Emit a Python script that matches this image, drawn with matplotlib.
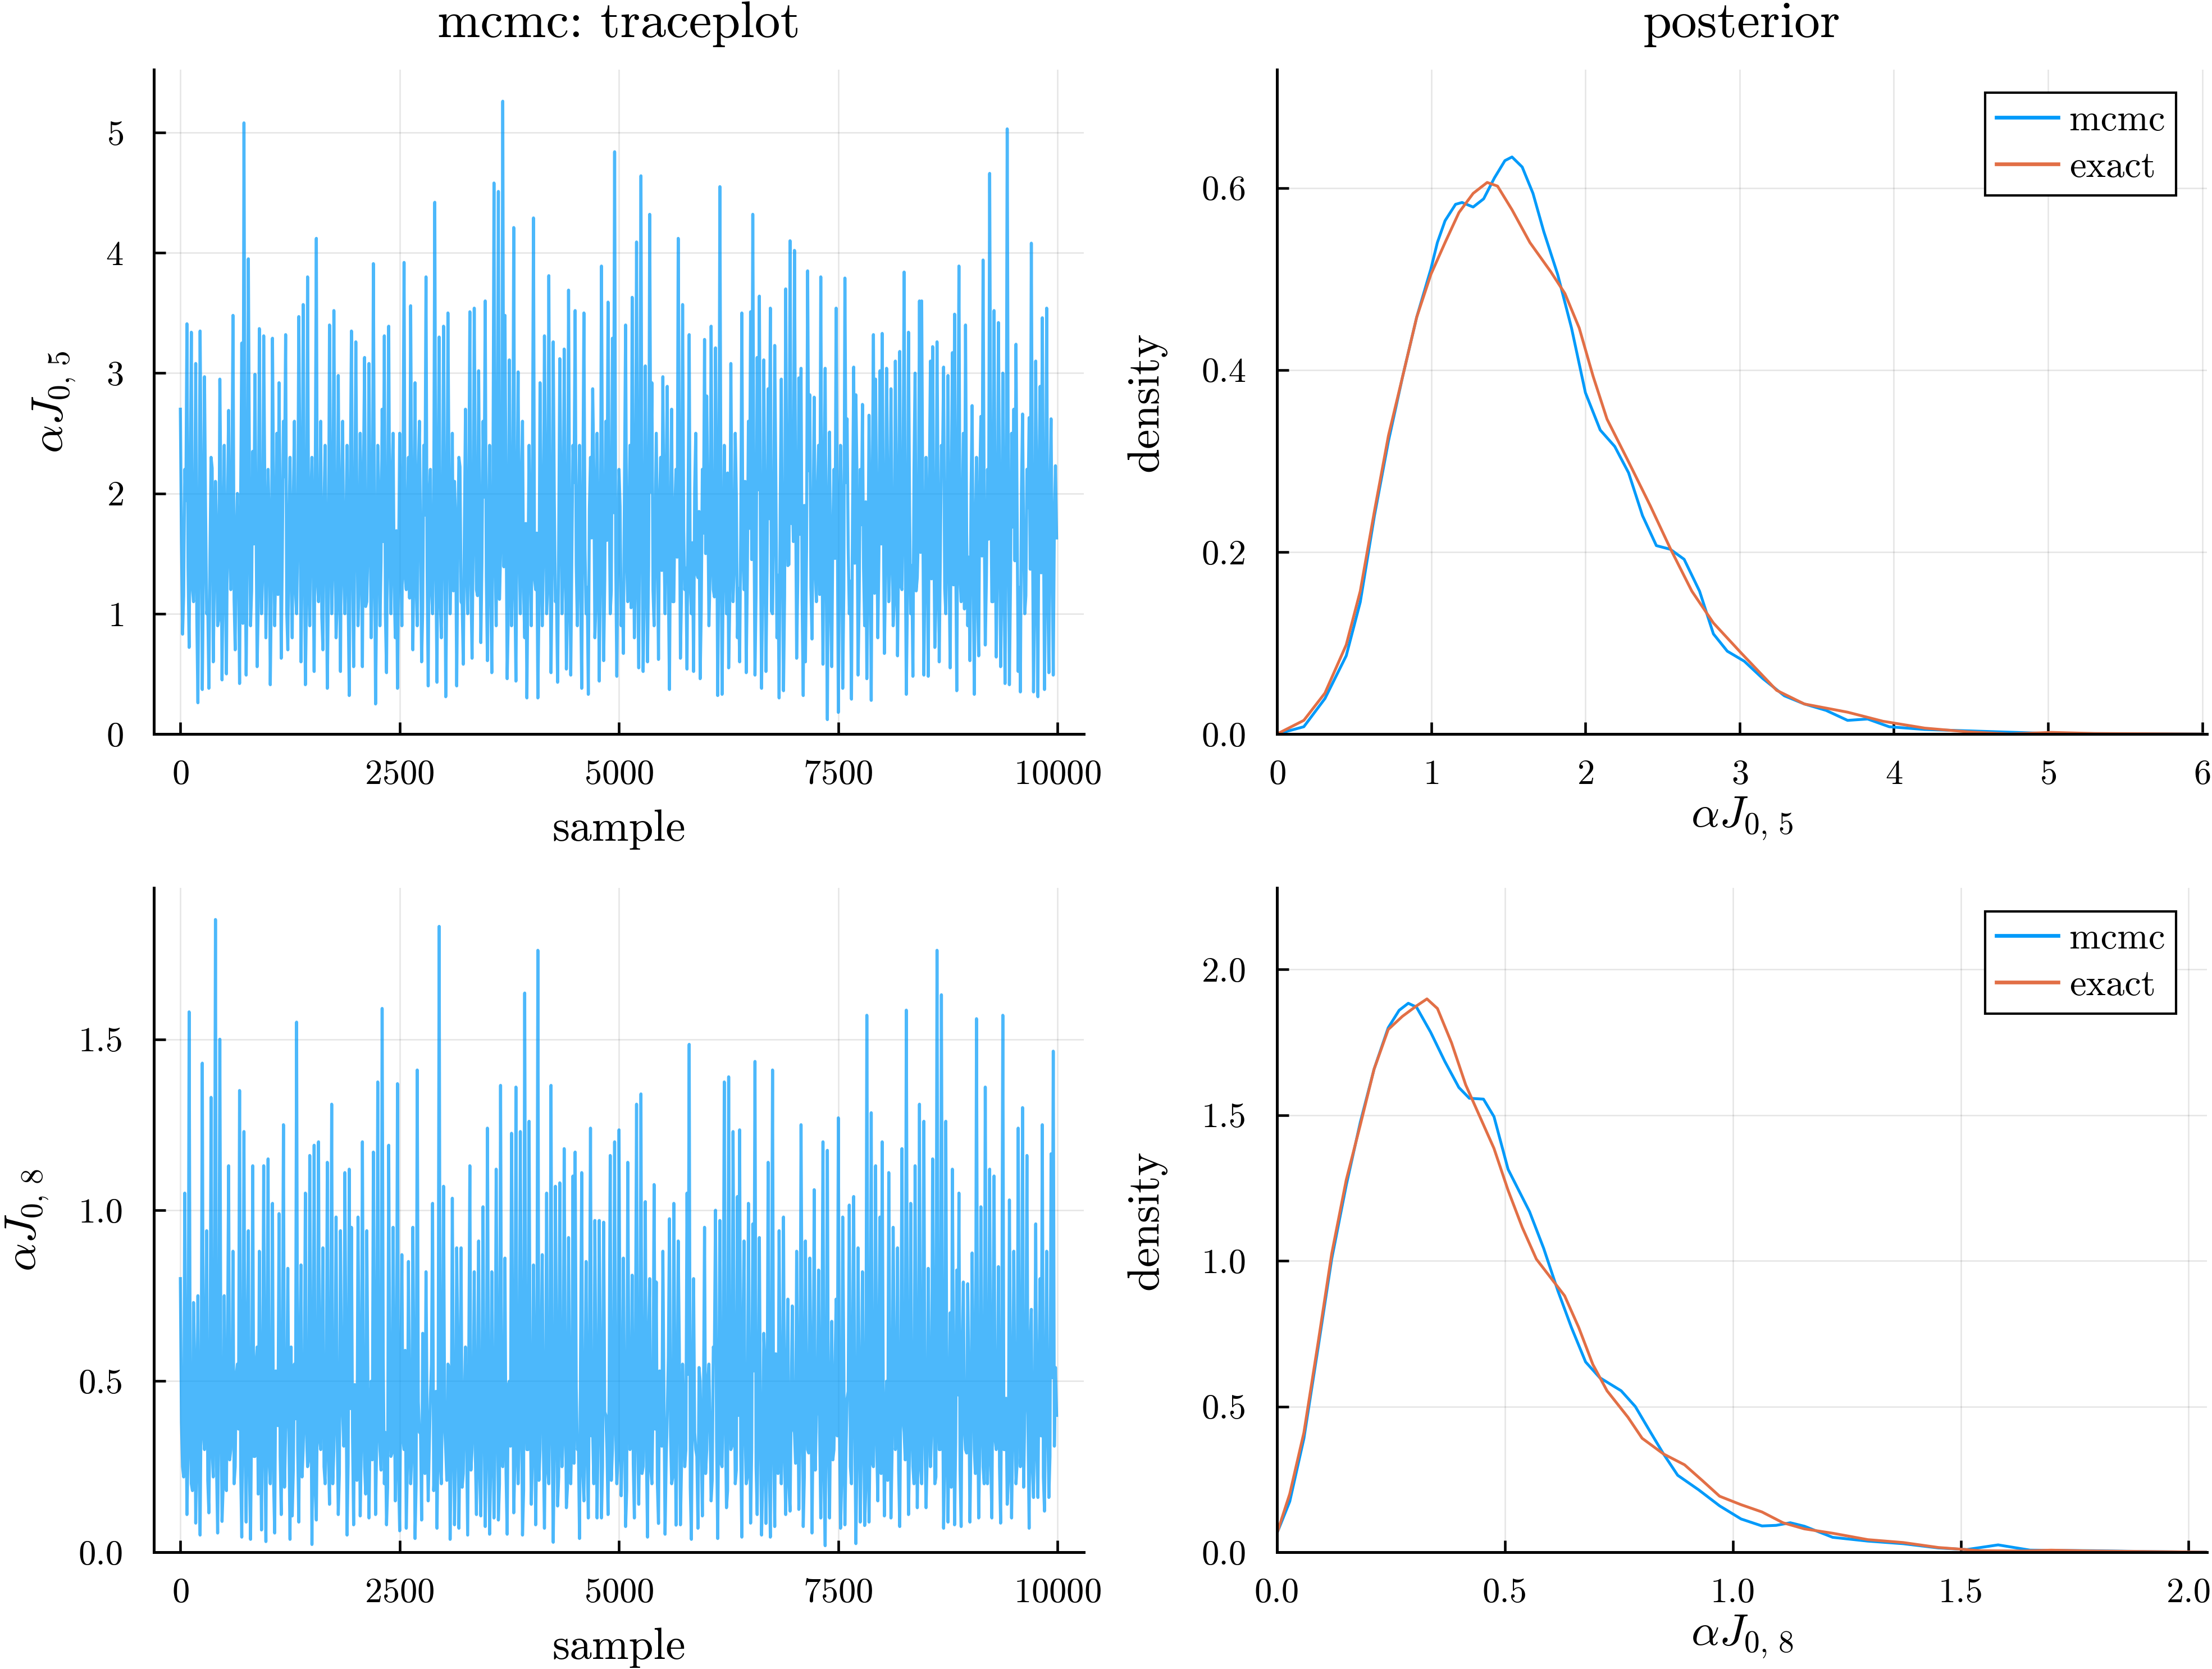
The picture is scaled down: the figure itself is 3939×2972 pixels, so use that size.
import matplotlib
matplotlib.use("Agg")
import matplotlib.pyplot as plt
import numpy as np
from matplotlib.ticker import FormatStrFormatter

# |====| data section
# mcmc chains: spikes / dips, one value every 25 samples
trace_j05 = [
    2.70, 0.83, 2.2, 3.41, 0.72, 3.34, 1.1, 3.08, 0.26, 3.35, 0.37, 2.97, 1.0, 0.38, 2.3, 0.6, 2.1, 0.9, 2.95, 0.45,
    2.4, 0.5, 2.69, 1.2, 3.48, 0.7, 2.0, 0.42, 3.25, 5.08, 0.49, 3.95, 0.9, 2.35, 2.99, 0.56, 3.37, 1.0, 3.31, 0.8,
    2.2, 0.41, 3.29, 0.9, 2.5, 2.92, 0.63, 2.6, 3.32, 0.7, 2.3, 0.8, 2.6, 1.0, 3.47, 0.6, 3.57, 0.41, 3.80, 0.9,
    2.3, 0.52, 4.12, 1.1, 2.6, 0.7, 2.4, 0.38, 3.40, 1.0, 3.52, 0.8, 2.98, 0.52, 2.6, 1.0, 2.4, 0.32, 3.35, 0.56,
    3.26, 0.9, 2.5, 0.56, 3.13, 1.1, 3.08, 0.8, 3.91, 0.25, 2.4, 0.9, 2.7, 3.31, 0.51, 3.39, 1.0, 2.5, 0.8, 0.38,
    2.5, 0.9, 3.92, 1.2, 2.3, 3.56, 0.7, 2.92, 0.9, 2.6, 0.6, 2.4, 3.80, 0.40, 2.2, 1.0, 4.42, 0.43, 3.30, 0.8,
    3.39, 0.31, 3.50, 1.0, 2.5, 2.1, 0.40, 2.3, 1.1, 0.58, 2.7, 1.0, 3.51, 0.63, 3.54, 1.2, 3.02, 0.76, 2.6, 3.60,
    0.61, 2.4, 0.51, 4.58, 0.9, 4.51, 1.5, 5.26, 3.48, 0.46, 3.11, 0.9, 4.21, 0.44, 3.01, 1.0, 2.6, 0.8, 0.30, 2.4,
    0.9, 4.29, 1.2, 0.30, 2.92, 0.9, 3.31, 1.0, 3.81, 0.51, 3.26, 1.1, 0.43, 3.12, 1.0, 3.20, 0.54, 3.69, 0.49, 2.4,
    3.52, 0.9, 2.4, 0.38, 3.50, 1.0, 0.33, 2.3, 2.87, 0.8, 2.5, 0.44, 3.89, 0.61, 2.6, 3.59, 1.0, 3.29, 4.84, 0.48,
    2.2, 0.9, 0.67, 3.40, 1.1, 2.4, 3.63, 0.8, 4.09, 0.55, 4.64, 0.52, 3.06, 0.60, 4.32, 2.92, 0.9, 2.5, 0.62, 2.3,
    2.97, 1.0, 2.89, 0.37, 2.70, 1.1, 2.2, 4.12, 0.63, 3.57, 1.2, 0.54, 3.32, 1.0, 0.52, 2.5, 1.3, 0.46, 2.2, 3.28,
    2.81, 0.9, 3.39, 1.2, 3.21, 0.32, 4.55, 0.33, 2.4, 1.0, 0.55, 3.08, 1.1, 2.5, 0.8, 0.60, 3.50, 1.2, 0.51, 2.6,
    3.51, 4.32, 0.49, 3.13, 3.64, 0.38, 3.11, 0.52, 2.87, 3.54, 1.0, 3.23, 0.8, 0.30, 2.95, 0.36, 3.70, 1.4, 4.10, 2.0,
    4.02, 0.63, 2.96, 3.04, 0.32, 0.60, 3.85, 2.82, 0.79, 2.80, 1.1, 2.4, 3.80, 0.58, 3.04, 0.12, 2.51, 0.56, 2.2, 3.54,
    0.18, 2.4, 0.38, 3.79, 2.62, 1.0, 0.29, 3.05, 2.82, 0.49, 2.2, 2.74, 0.9, 0.46, 2.65, 0.28, 3.32, 2.95, 0.8, 3.02,
    3.33, 0.67, 3.04, 1.1, 2.87, 0.9, 3.10, 0.65, 3.18, 1.2, 3.84, 0.33, 3.34, 1.0, 0.48, 3.00, 1.3, 3.60, 3.60, 0.49,
    2.3, 0.48, 3.10, 3.22, 0.72, 3.26, 0.60, 2.4, 3.05, 1.0, 2.98, 0.55, 3.17, 3.49, 0.36, 3.89, 1.1, 2.5, 3.40, 0.9,
    0.61, 2.73, 0.33, 2.3, 0.65, 2.64, 3.94, 0.74, 2.2, 4.66, 1.1, 3.52, 0.64, 3.42, 0.56, 3.00, 0.42, 5.03, 0.41, 2.5,
    2.70, 3.24, 0.52, 0.35, 2.66, 1.0, 2.2, 2.63, 4.08, 0.35, 3.10, 0.31, 2.89, 3.46, 0.37, 3.54, 0.51, 2.62, 0.49, 2.23,
]
# values in the dense core of the band, sitting between the ones above
core_j05 = [
    1.62, 1.15, 1.94, 1.38, 2.05, 1.21, 1.73, 0.98, 1.56, 2.12, 1.33, 1.85, 1.08, 1.47, 2.21, 1.29, 1.68, 0.95, 1.91, 1.42,
    1.27, 1.88, 1.51, 2.08, 1.12, 1.64, 1.36, 1.97, 0.92, 1.75, 1.44, 2.17, 1.19, 1.58, 1.83, 1.05, 1.71, 1.31, 2.02, 1.49,
    1.77, 1.24, 1.99, 1.41, 1.16, 1.86, 1.53, 2.14, 1.02, 1.66, 1.35, 1.92, 1.18, 1.61, 2.25, 1.39, 1.80, 1.11, 1.55, 1.95,
    1.46, 2.09, 1.26, 1.70, 0.97, 1.89, 1.52, 1.22, 2.04, 1.37, 1.81, 1.09, 1.63, 1.98, 1.32, 1.74, 1.14, 2.11, 1.45, 1.59,
    1.90, 1.28, 1.67, 2.19, 1.06, 1.54, 1.87, 1.34, 1.72, 1.17, 2.01, 1.43, 1.60, 0.99, 1.84, 1.48, 2.13, 1.23, 1.69, 1.40,
    1.57, 2.06, 1.30, 1.78, 1.13, 1.93, 1.50, 1.25, 2.16, 1.65, 1.04, 1.82, 1.38, 1.96, 1.20, 1.73, 1.44, 2.03, 1.10, 1.62,
    1.85, 1.33, 2.10, 1.47, 1.19, 1.76, 1.57, 2.22, 1.08, 1.68, 1.36, 1.95, 1.27, 1.59, 2.07, 1.15, 1.79, 1.42, 1.97, 1.31,
    1.70, 1.21, 1.91, 1.52, 2.18, 1.12, 1.64, 1.39, 2.00, 0.96, 1.83, 1.48, 1.26, 1.88, 1.55, 2.12, 1.18, 1.75, 1.35, 1.60,
    1.98, 1.29, 1.67, 1.07, 1.86, 1.45, 2.15, 1.24, 1.72, 1.37, 1.94, 1.14, 1.58, 2.05, 1.32, 1.80, 1.01, 1.66, 1.49, 2.09,
    1.41, 1.77, 1.16, 1.99, 1.53, 1.22, 1.87, 1.63, 2.20, 1.09, 1.71, 1.34, 1.92, 1.28, 1.61, 2.02, 1.19, 1.84, 1.46, 1.56,
    1.89, 1.25, 2.08, 1.43, 1.74, 1.05, 1.97, 1.51, 1.30, 2.14, 1.65, 1.13, 1.81, 1.40, 2.01, 1.20, 1.69, 1.54, 1.93, 1.36,
    1.62, 2.11, 1.27, 1.78, 1.10, 1.90, 1.47, 2.23, 1.17, 1.70, 1.38, 1.96, 1.23, 1.59, 2.04, 1.33, 1.85, 1.03, 1.67, 1.50,
    1.94, 1.31, 1.73, 1.14, 2.06, 1.44, 1.82, 1.26, 1.60, 2.17, 1.08, 1.76, 1.39, 1.98, 1.21, 1.64, 1.52, 2.10, 1.29, 1.71,
    1.45, 1.88, 1.18, 2.03, 1.57, 1.24, 1.92, 1.35, 1.79, 1.02, 1.68, 2.13, 1.32, 1.86, 1.48, 1.15, 1.97, 1.41, 1.75, 1.60,
    2.07, 1.28, 1.66, 1.11, 1.90, 1.53, 2.19, 1.22, 1.72, 1.37, 1.99, 1.16, 1.63, 2.02, 1.30, 1.83, 1.06, 1.69, 1.46, 1.95,
    1.34, 1.80, 1.20, 2.09, 1.55, 1.27, 1.87, 1.42, 2.15, 1.12, 1.74, 1.38, 1.93, 1.25, 1.61, 2.05, 1.17, 1.78, 1.49, 1.58,
    1.91, 1.32, 2.12, 1.43, 1.70, 1.09, 1.96, 1.56, 1.23, 2.01, 1.65, 1.14, 1.84, 1.40, 2.18, 1.19, 1.67, 1.51, 1.89, 1.35,
    1.64, 2.08, 1.29, 1.76, 1.07, 1.94, 1.45, 2.22, 1.21, 1.73, 1.36, 1.98, 1.24, 1.57, 2.03, 1.31, 1.82, 1.04, 1.68, 1.47,
    1.97, 1.33, 1.71, 1.13, 2.10, 1.48, 1.85, 1.28, 1.62, 2.16, 1.10, 1.79, 1.39, 1.95, 1.18, 1.66, 1.54, 2.06, 1.26, 1.72,
    1.44, 1.90, 1.22, 2.00, 1.59, 1.15, 1.88, 1.37, 1.81, 1.05, 1.69, 2.11, 1.34, 1.87, 1.50, 1.20, 1.93, 1.40, 1.77, 1.63,
]

trace_j08 = [
    0.80, 0.25, 1.05, 0.11, 1.58, 0.20, 0.73, 0.085, 0.75, 0.05, 1.43, 0.30, 0.94, 0.115, 1.33, 0.22, 1.85, 0.056, 1.50, 0.09,
    0.75, 0.18, 1.13, 0.30, 0.88, 0.25, 0.55, 1.35, 0.044, 1.23, 0.088, 0.94, 0.0375, 1.13, 0.28, 0.60, 0.88, 0.065, 1.13, 0.031,
    1.15, 0.20, 1.02, 0.056, 0.45, 0.99, 0.11, 1.25, 0.35, 0.83, 0.0375, 0.106, 0.55, 1.55, 0.088, 0.84, 0.30, 1.05, 0.25, 1.16,
    0.0225, 1.19, 0.094, 1.20, 0.30, 0.89, 0.20, 1.14, 0.14, 1.31, 0.30, 0.98, 0.11, 0.94, 0.40, 1.11, 0.05, 1.12, 0.95, 0.08,
    0.35, 0.98, 0.106, 1.20, 0.25, 0.94, 0.10, 0.50, 1.17, 0.11, 1.375, 0.30, 1.59, 0.20, 0.08, 1.19, 0.28, 0.95, 0.15, 1.37,
    0.0625, 0.87, 0.30, 0.07, 0.85, 0.20, 0.95, 0.04, 1.41, 0.35, 0.094, 0.55, 0.82, 0.15, 0.45, 1.02, 0.25, 0.07, 1.83, 0.20,
    1.07, 0.30, 0.55, 0.0375, 1.035, 0.08, 0.89, 0.07, 0.89, 0.23, 0.60, 0.05, 1.13, 0.30, 0.82, 0.11, 0.91, 0.106, 1.01, 0.075,
    1.24, 0.0525, 0.82, 0.10, 1.12, 0.094, 1.365, 0.25, 0.86, 0.0525, 0.50, 1.225, 0.115, 1.36, 0.20, 1.23, 0.05, 1.635, 0.30, 1.26,
    0.14, 0.84, 0.08, 1.76, 0.30, 0.87, 0.07, 1.05, 0.20, 1.365, 0.029, 1.07, 0.135, 1.08, 0.25, 1.18, 0.13, 0.92, 0.20, 1.10,
    1.17, 0.30, 0.04, 1.11, 0.15, 0.85, 0.10, 1.24, 0.35, 0.97, 0.10, 0.97, 0.10, 0.965, 0.40, 0.11, 1.16, 0.30, 1.20, 0.20,
    1.235, 0.165, 0.86, 0.075, 1.14, 0.30, 0.81, 0.10, 1.31, 0.14, 1.34, 0.25, 1.025, 0.044, 0.80, 0.20, 1.075, 0.79, 0.084, 0.45,
    0.88, 0.0525, 0.40, 0.975, 0.20, 1.02, 0.079, 0.91, 0.08, 0.55, 0.25, 1.05, 1.485, 0.0375, 0.80, 0.30, 0.07, 0.50, 0.106, 0.95,
    0.30, 0.55, 0.15, 0.60, 1.00, 0.04, 0.97, 0.25, 1.375, 0.13, 1.39, 0.30, 1.23, 0.20, 1.04, 1.235, 0.044, 0.91, 0.20, 1.02,
    0.085, 0.96, 1.435, 0.11, 0.92, 0.05, 0.64, 0.084, 1.14, 0.044, 1.41, 0.075, 0.45, 0.94, 0.20, 0.98, 0.11, 0.74, 0.12, 0.72,
    0.35, 0.88, 0.125, 1.25, 0.075, 0.91, 0.30, 0.86, 0.056, 1.06, 0.40, 0.825, 0.10, 1.20, 0.019, 1.175, 0.10, 0.675, 0.30, 0.74,
    1.27, 0.07, 0.98, 0.08, 0.45, 1.015, 0.20, 1.04, 0.025, 0.89, 0.088, 0.82, 0.078, 1.57, 0.088, 1.285, 0.25, 1.13, 0.15, 0.98,
    1.20, 0.106, 0.50, 1.11, 0.10, 0.95, 0.30, 0.89, 0.075, 1.18, 0.35, 1.585, 0.11, 1.02, 0.25, 1.13, 0.13, 1.31, 0.20, 1.26,
    0.13, 0.83, 0.25, 1.15, 0.20, 1.76, 0.30, 1.63, 0.07, 1.26, 0.088, 0.70, 1.12, 0.08, 0.825, 1.05, 0.075, 0.79, 0.30, 0.785,
    0.088, 0.875, 0.30, 1.56, 0.10, 1.01, 0.25, 1.36, 0.20, 1.12, 0.10, 1.10, 0.30, 0.835, 0.085, 1.57, 0.30, 0.14, 1.03, 0.10,
    0.88, 0.20, 1.24, 0.25, 1.30, 0.40, 1.16, 0.07, 0.71, 0.16, 0.96, 0.16, 0.80, 1.25, 0.12, 0.88, 0.16, 1.165, 1.465, 0.54,
]
core_j08 = [
    0.38, 0.22, 0.51, 0.29, 0.44, 0.18, 0.57, 0.33, 0.26, 0.48, 0.35, 0.61, 0.21, 0.42, 0.30, 0.54, 0.25, 0.39, 0.47, 0.19,
    0.34, 0.58, 0.27, 0.45, 0.20, 0.52, 0.36, 0.24, 0.49, 0.31, 0.63, 0.23, 0.41, 0.28, 0.55, 0.17, 0.40, 0.46, 0.32, 0.59,
    0.26, 0.43, 0.21, 0.53, 0.37, 0.28, 0.50, 0.19, 0.44, 0.34, 0.60, 0.24, 0.39, 0.30, 0.56, 0.22, 0.47, 0.35, 0.27, 0.52,
    0.41, 0.18, 0.48, 0.33, 0.62, 0.25, 0.38, 0.29, 0.54, 0.20, 0.45, 0.36, 0.23, 0.51, 0.31, 0.58, 0.26, 0.42, 0.34, 0.49,
    0.21, 0.55, 0.30, 0.43, 0.17, 0.50, 0.37, 0.27, 0.61, 0.32, 0.40, 0.24, 0.57, 0.35, 0.19, 0.46, 0.29, 0.53, 0.38, 0.22,
    0.48, 0.33, 0.59, 0.25, 0.41, 0.28, 0.52, 0.20, 0.44, 0.36, 0.64, 0.23, 0.39, 0.31, 0.55, 0.18, 0.47, 0.34, 0.26, 0.50,
    0.37, 0.21, 0.54, 0.30, 0.42, 0.27, 0.60, 0.35, 0.19, 0.45, 0.32, 0.56, 0.24, 0.40, 0.29, 0.51, 0.22, 0.46, 0.38, 0.28,
    0.53, 0.25, 0.43, 0.33, 0.58, 0.20, 0.41, 0.36, 0.23, 0.49, 0.31, 0.62, 0.26, 0.39, 0.34, 0.55, 0.18, 0.44, 0.30, 0.47,
    0.27, 0.52, 0.35, 0.21, 0.57, 0.32, 0.40, 0.24, 0.50, 0.37, 0.29, 0.59, 0.22, 0.45, 0.33, 0.54, 0.19, 0.42, 0.36, 0.26,
    0.48, 0.31, 0.61, 0.23, 0.43, 0.28, 0.53, 0.34, 0.20, 0.46, 0.38, 0.56, 0.25, 0.41, 0.30, 0.50, 0.21, 0.47, 0.35, 0.27,
    0.55, 0.32, 0.44, 0.18, 0.51, 0.37, 0.26, 0.58, 0.33, 0.40, 0.23, 0.49, 0.29, 0.63, 0.24, 0.42, 0.36, 0.20, 0.53, 0.31,
    0.45, 0.27, 0.57, 0.34, 0.22, 0.48, 0.39, 0.60, 0.25, 0.43, 0.30, 0.52, 0.19, 0.46, 0.35, 0.28, 0.54, 0.32, 0.41, 0.23,
    0.50, 0.36, 0.21, 0.59, 0.33, 0.44, 0.26, 0.51, 0.38, 0.18, 0.47, 0.31, 0.56, 0.24, 0.40, 0.29, 0.62, 0.35, 0.22, 0.48,
    0.30, 0.53, 0.25, 0.42, 0.37, 0.20, 0.55, 0.34, 0.27, 0.49, 0.32, 0.58, 0.23, 0.45, 0.39, 0.28, 0.52, 0.19, 0.43, 0.36,
    0.26, 0.50, 0.33, 0.61, 0.22, 0.46, 0.29, 0.54, 0.38, 0.24, 0.41, 0.35, 0.57, 0.21, 0.48, 0.31, 0.44, 0.27, 0.53, 0.34,
    0.40, 0.20, 0.55, 0.30, 0.47, 0.25, 0.60, 0.37, 0.28, 0.51, 0.33, 0.43, 0.18, 0.56, 0.35, 0.26, 0.49, 0.32, 0.62, 0.23,
    0.45, 0.36, 0.21, 0.52, 0.29, 0.58, 0.34, 0.24, 0.47, 0.39, 0.27, 0.54, 0.31, 0.42, 0.20, 0.50, 0.37, 0.25, 0.57, 0.33,
    0.28, 0.48, 0.35, 0.63, 0.22, 0.44, 0.30, 0.53, 0.26, 0.41, 0.38, 0.19, 0.55, 0.32, 0.46, 0.24, 0.59, 0.36, 0.29, 0.49,
    0.34, 0.57, 0.23, 0.43, 0.31, 0.52, 0.20, 0.47, 0.37, 0.27, 0.61, 0.33, 0.40, 0.25, 0.54, 0.30, 0.45, 0.21, 0.50, 0.35,
    0.42, 0.26, 0.56, 0.32, 0.19, 0.48, 0.36, 0.60, 0.24, 0.44, 0.29, 0.53, 0.34, 0.22, 0.47, 0.38, 0.28, 0.51, 0.31, 0.40,
]

# posterior densities for alpha*J_{0,5}
j05_mcmc_x = [0.0, 0.174, 0.311, 0.449, 0.54, 0.632, 0.723, 0.815, 0.906, 0.998, 1.04, 1.09, 1.158, 1.2,
              1.272, 1.34, 1.41, 1.478, 1.524, 1.59, 1.66, 1.73, 1.82, 1.91, 2.0, 2.096, 2.19, 2.28, 2.37,
              2.46, 2.55, 2.64, 2.74, 2.83, 2.92, 3.03, 3.15, 3.29, 3.42, 3.56, 3.70, 3.83, 3.97, 4.2,
              4.57, 4.75, 5.02, 6.0]
j05_mcmc_y = [0.0, 0.008, 0.039, 0.086, 0.145, 0.24, 0.322, 0.393, 0.458, 0.511, 0.54, 0.564, 0.582, 0.584,
              0.579, 0.588, 0.611, 0.63, 0.634, 0.623, 0.594, 0.552, 0.505, 0.446, 0.375, 0.334, 0.316, 0.287, 0.24,
              0.207, 0.203, 0.192, 0.157, 0.11, 0.091, 0.08, 0.061, 0.042, 0.033, 0.026, 0.015, 0.0165, 0.008, 0.005,
              0.003, 0.002, 0.0006, 0.0]
j05_exact_x = [0.0, 0.174, 0.311, 0.449, 0.54, 0.632, 0.723, 0.815, 0.906, 0.998, 1.09, 1.18, 1.272, 1.363,
               1.43, 1.524, 1.64, 1.775, 1.867, 1.96, 2.05, 2.14, 2.28, 2.42, 2.55, 2.69, 2.83, 3.01, 3.24,
               3.42, 3.70, 3.93, 4.2, 4.48, 4.75, 5.02, 5.3, 6.0]
j05_exact_y = [0.0, 0.015, 0.045, 0.098, 0.157, 0.245, 0.328, 0.393, 0.458, 0.505, 0.54, 0.573, 0.594, 0.606,
               0.602, 0.576, 0.54, 0.508, 0.484, 0.446, 0.393, 0.346, 0.299, 0.251, 0.204, 0.157, 0.122, 0.089, 0.048,
               0.033, 0.024, 0.014, 0.0065, 0.0024, 0.0, 0.0018, 0.0006, 0.0]

# posterior densities for alpha*J_{0,8}
j08_mcmc_x = [0.0, 0.028, 0.059, 0.09, 0.12, 0.152, 0.183, 0.213, 0.244, 0.268, 0.288, 0.306, 0.337, 0.368,
              0.399, 0.422, 0.453, 0.476, 0.507, 0.554, 0.585, 0.616, 0.646, 0.677, 0.708, 0.755, 0.786, 0.817,
              0.848, 0.879, 0.925, 0.971, 1.018, 1.064, 1.095, 1.126, 1.157, 1.219, 1.296, 1.374, 1.451, 1.513,
              1.582, 1.652, 1.79, 1.915, 2.04]
j08_mcmc_y = [0.065, 0.174, 0.39, 0.70, 1.006, 1.26, 1.477, 1.658, 1.80, 1.86, 1.884, 1.871, 1.785, 1.685,
              1.595, 1.558, 1.555, 1.495, 1.314, 1.169, 1.043, 0.898, 0.771, 0.653, 0.599, 0.554, 0.50, 0.418,
              0.337, 0.264, 0.214, 0.159, 0.114, 0.09, 0.092, 0.101, 0.089, 0.051, 0.038, 0.029, 0.0145, 0.009,
              0.025, 0.007, 0.005, 0.002, 0.0]
j08_exact_x = [0.0, 0.028, 0.059, 0.09, 0.12, 0.152, 0.183, 0.213, 0.244, 0.275, 0.306, 0.329, 0.352, 0.383,
               0.414, 0.445, 0.476, 0.507, 0.538, 0.569, 0.6, 0.631, 0.662, 0.693, 0.724, 0.77, 0.801, 0.848,
               0.894, 0.933, 0.971, 1.018, 1.064, 1.11, 1.157, 1.219, 1.296, 1.374, 1.451, 1.544, 1.636, 1.698,
               1.79, 2.04]
j08_exact_y = [0.065, 0.2, 0.41, 0.717, 1.024, 1.278, 1.468, 1.658, 1.794, 1.839, 1.875, 1.899, 1.866, 1.748,
               1.604, 1.495, 1.386, 1.242, 1.115, 1.006, 0.943, 0.88, 0.771, 0.644, 0.554, 0.463, 0.391, 0.337,
               0.30, 0.246, 0.192, 0.163, 0.138, 0.101, 0.08, 0.065, 0.043, 0.033, 0.016, 0.005, 0.004, 0.007,
               0.004, 0.0]

sample_step = 25

# |====| style section
plt.rcParams["font.family"] = "serif"
plt.rcParams["font.serif"] = ["cmr10"]
plt.rcParams["mathtext.fontset"] = "cm"
plt.rcParams["axes.formatter.use_mathtext"] = True
plt.rcParams["axes.unicode_minus"] = False

BLUE = "#009AFA"
ORANGE = "#E26F46"


def style_axes(ax, xpad=11, ypad=13):
    for side in ["top", "right"]:
        ax.spines[side].set_visible(False)
    for side in ["left", "bottom"]:
        ax.spines[side].set_linewidth(1.2)
    ax.tick_params(direction="in", length=5, width=1.1, labelsize=15)
    ax.tick_params(axis="x", pad=xpad)
    ax.tick_params(axis="y", pad=ypad)
    ax.grid(True, color="black", alpha=0.1, linewidth=0.6)


def chain(spikes, core):
    # spikes and core values alternate along the chain
    vals = [v for pair in zip(spikes, core) for v in pair]
    x = np.arange(len(vals)) * (sample_step / 2) + 1
    return x, vals


# |====| plot section
fig = plt.figure(figsize=(3939 / 300, 2972 / 300), dpi=300)
ax_t1 = fig.add_axes([0.0696, 0.5602, 0.4204, 0.3981])
ax_d1 = fig.add_axes([0.5773, 0.5602, 0.4204, 0.3981])
ax_t2 = fig.add_axes([0.0696, 0.0700, 0.4204, 0.3980])
ax_d2 = fig.add_axes([0.5773, 0.0700, 0.4204, 0.3980])

lab05 = r"$\alpha J_{0,\,5}$"
lab08 = r"$\alpha J_{0,\,8}$"

# traceplots
for ax, spikes, core, lab, yt in [(ax_t1, trace_j05, core_j05, lab05, [0, 1, 2, 3, 4, 5]),
                                  (ax_t2, trace_j08, core_j08, lab08, [0.0, 0.5, 1.0, 1.5])]:
    samples, vals = chain(spikes, core)
    ax.plot(samples, vals, color=BLUE, alpha=0.7, linewidth=1.3)
    ax.set_xlim(-300, 10300)
    ax.set_ylim(0, 1.05 * max(vals))
    ax.set_xticks([0, 2500, 5000, 7500, 10000])
    ax.set_yticks(yt)
    ax.set_xlabel("sample", fontsize=19, labelpad=8)
    ax.set_ylabel(lab, fontsize=19, labelpad=12)
    style_axes(ax)
ax_t2.yaxis.set_major_formatter(FormatStrFormatter("%.1f"))
ax_t1.set_title("mcmc: traceplot", fontsize=22, pad=14)

# posteriors
ax_d1.plot(j05_mcmc_x, j05_mcmc_y, color=BLUE, linewidth=1.2, label="mcmc")
ax_d1.plot(j05_exact_x, j05_exact_y, color=ORANGE, linewidth=1.2, label="exact")
ax_d1.set_xlim(0, 6.03)
ax_d1.set_ylim(0, 0.73)
ax_d1.set_xticks([0, 1, 2, 3, 4, 5, 6])
ax_d1.set_yticks([0.0, 0.2, 0.4, 0.6])
ax_d1.yaxis.set_major_formatter(FormatStrFormatter("%.1f"))
ax_d1.set_xlabel(lab05, fontsize=19, labelpad=2)
ax_d1.set_title("posterior", fontsize=22, pad=14)

ax_d2.plot(j08_mcmc_x, j08_mcmc_y, color=BLUE, linewidth=1.2, label="mcmc")
ax_d2.plot(j08_exact_x, j08_exact_y, color=ORANGE, linewidth=1.2, label="exact")
ax_d2.set_xlim(0, 2.04)
ax_d2.set_ylim(0, 2.28)
ax_d2.set_xticks([0.0, 0.5, 1.0, 1.5, 2.0])
ax_d2.set_yticks([0.0, 0.5, 1.0, 1.5, 2.0])
ax_d2.xaxis.set_major_formatter(FormatStrFormatter("%.1f"))
ax_d2.yaxis.set_major_formatter(FormatStrFormatter("%.1f"))
ax_d2.set_xlabel(lab08, fontsize=19, labelpad=2)

for ax in [ax_d1, ax_d2]:
    ax.set_ylabel("density", fontsize=19, labelpad=15)
    style_axes(ax)
    leg = ax.legend(loc="upper right", bbox_to_anchor=(0.967, 0.965), borderaxespad=0,
                    fontsize=16, fancybox=False, framealpha=1, edgecolor="black",
                    handlelength=1.65, handletextpad=0.3, borderpad=0.3, labelspacing=0.35)
    leg.get_frame().set_linewidth(1.0)
    for line in leg.get_lines():
        line.set_linewidth(1.6)

fig.savefig("out.png", dpi=300)
